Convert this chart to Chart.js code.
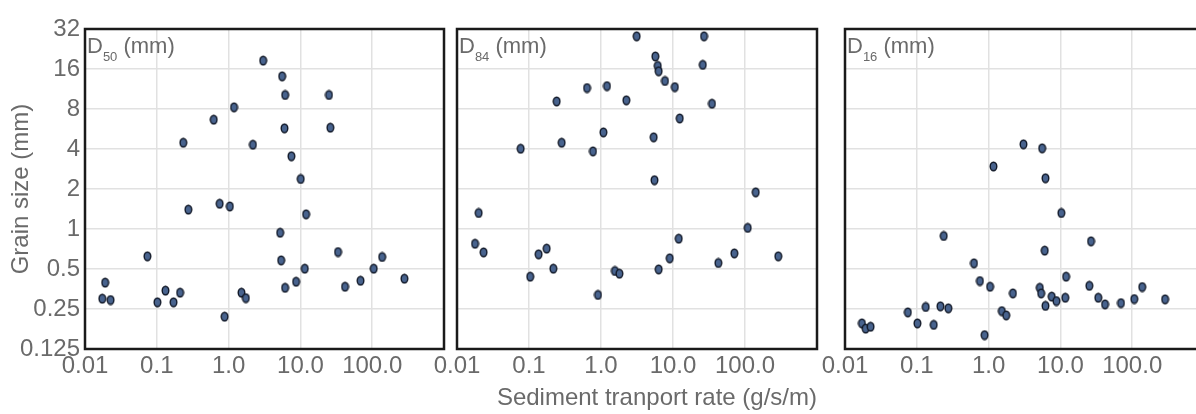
<!DOCTYPE html>
<html><head><meta charset="utf-8">
<script src="https://cdn.jsdelivr.net/npm/chart.js@4.4.1/dist/chart.umd.min.js"></script>
<style>
html,body{margin:0;padding:0;background:#fff;overflow:hidden;width:1196px;height:414px;position:relative;}
canvas{position:absolute;top:0;}
</style></head><body>
<canvas id="c1" width="450" height="414" style="left:0px"></canvas>
<canvas id="c2" width="396" height="414" style="left:427px"></canvas>
<canvas id="c3" width="395" height="414" style="left:815px"></canvas>
<script>
// ---- data ----
const xTickValues = [0.01, 0.1, 1, 10, 100, 1000];
const xTickLabels = ['0.01', '0.1', '1.0', '10.0', '100.0', ''];
const yTickValues = [0.125, 0.25, 0.5, 1, 2, 4, 8, 16, 32];
const yTickLabels = ['0.125', '0.25', '0.5', '1', '2', '4', '8', '16', '32'];
const panelSubs = ['50', '84', '16'];
const xAxisTitle = 'Sediment tranport rate (g/s/m)';
const yAxisTitle = 'Grain size (mm)';

const d50Rate = [3.03, 5.57, 6.13, 25.0, 1.19, 0.62, 6.0, 26.1, 0.234, 2.18, 7.5, 10.1,
  0.275, 0.75, 1.04, 12.0, 5.22, 0.074, 5.4, 33.4, 137.7, 11.5, 105, 0.0191, 0.0174, 0.0227,
  0.102, 0.132, 0.171, 0.211, 0.88, 1.51, 1.74, 6.12, 8.71, 41.8, 68.8, 281];
const d50Size = [18.5, 14.1, 10.2, 10.2, 8.24, 6.65, 5.73, 5.79, 4.46, 4.31, 3.53, 2.38,
  1.40, 1.55, 1.48, 1.29, 0.938, 0.623, 0.581, 0.671, 0.616, 0.503, 0.503, 0.395, 0.299, 0.292,
  0.281, 0.344, 0.281, 0.332, 0.219, 0.332, 0.302, 0.361, 0.401, 0.368, 0.408, 0.423];

const d84Rate = [3.13, 27.0, 5.68, 6.13, 6.32, 25.9, 7.74, 10.6, 0.64, 1.21, 0.242, 2.25,
  34.8, 12.4, 1.08, 5.39, 0.284, 0.0766, 0.774, 5.53, 141,
  0.020, 0.0178, 0.0234, 0.104, 0.136, 0.176, 0.218, 0.908, 1.56, 1.80, 6.32, 9.0, 12.0,
  42.6, 71.1, 109, 290];
const d84Size = [28.2, 28.2, 19.9, 16.9, 15.4, 17.2, 13.0, 11.7, 11.5, 11.9, 9.13, 9.3,
  8.77, 6.8, 5.34, 4.9, 4.46, 4.02, 3.84, 2.33, 1.89,
  1.32, 0.775, 0.667, 0.438, 0.645, 0.712, 0.503, 0.319, 0.483, 0.461, 0.497, 0.602, 0.846,
  0.555, 0.656, 1.02, 0.623];

const d16Rate = [3.06, 5.57, 1.17, 6.19, 10.3, 0.237, 26.7, 6.05, 0.625, 12.0, 0.757, 1.05,
  2.18, 5.16, 5.39, 25.3, 138, 7.57, 8.8, 6.19, 11.7, 33.7, 41.8, 69.7, 107, 287,
  0.075, 0.133, 0.213, 0.275, 0.102, 0.172, 1.53, 1.76, 0.88, 0.0172, 0.0194, 0.0227];
const d16Size = [4.34, 4.05, 2.96, 2.41, 1.32, 0.886, 0.808, 0.688, 0.552, 0.438, 0.406, 0.368,
  0.328, 0.361, 0.328, 0.374, 0.366, 0.310, 0.287, 0.264, 0.304, 0.304, 0.271, 0.277, 0.297, 0.296,
  0.236, 0.259, 0.262, 0.253, 0.195, 0.190, 0.241, 0.224, 0.159, 0.195, 0.178, 0.184];

// ---- styling ----
const FONT = "'Liberation Sans', Arial, sans-serif";
const TEXT = '#6a6a6a';
const GRID = '#e1e1e1';

function makeMarker() {
  const c = document.createElement('canvas');
  c.width = 9; c.height = 11;
  const g = c.getContext('2d');
  g.beginPath();
  g.ellipse(4.5, 5.5, 3.3, 4.3, 0, 0, Math.PI * 2);
  g.fillStyle = '#48638e';
  g.fill();
  g.lineWidth = 1.4;
  g.strokeStyle = '#111827';
  g.stroke();
  return c;
}
const marker = makeMarker();

const framePlugin = {
  id: 'frame',
  afterDatasetsDraw(chart) {
    const { ctx, chartArea: a } = chart;
    ctx.save();
    ctx.strokeStyle = '#1a1a1a';
    ctx.lineWidth = 2.5;
    ctx.strokeRect(a.left, a.top, a.right - a.left, a.bottom - a.top);
    ctx.restore();
  }
};

const labelPlugin = {
  id: 'panelLabel',
  afterDraw(chart, args, opts) {
    const { ctx, chartArea: a } = chart;
    const x0 = a.left + 2, base = a.top + 24;
    ctx.save();
    ctx.fillStyle = TEXT;
    ctx.textBaseline = 'alphabetic';
    ctx.textAlign = 'left';
    ctx.font = '22px ' + FONT;
    ctx.fillText('D', x0, base);
    let x = x0 + ctx.measureText('D').width;
    ctx.font = '13px ' + FONT;
    ctx.fillText(opts.sub, x, base + 8);
    x += ctx.measureText(opts.sub).width;
    ctx.font = '22px ' + FONT;
    ctx.fillText(' (mm)', x, base);
    ctx.restore();
  }
};

function makeChart(id, rate, size, sub, idx) {
  const first = idx === 0;
  const showXTitle = idx === 1;
  new Chart(document.getElementById(id), {
    type: 'scatter',
    data: {
      datasets: [{
        data: rate.map((x, i) => ({ x: x, y: size[i] })),
        pointStyle: marker,
        pointRadius: 5,
        pointHoverRadius: 5
      }]
    },
    options: {
      responsive: false,
      animation: false,
      events: [],
      layout: { padding: { left: first ? 0 : 30, right: 5, top: 29, bottom: 0 } },
      plugins: {
        legend: { display: false },
        tooltip: { enabled: false },
        panelLabel: { sub: sub }
      },
      scales: {
        x: {
          type: 'logarithmic',
          min: 0.01, max: 1000,
          afterBuildTicks(s) { s.ticks = xTickValues.map(v => ({ value: v })); },
          afterFit(s) { s.height = 65; s.paddingLeft = 0; s.paddingRight = 0; },
          border: { display: false },
          grid: { color: GRID, lineWidth: 1.5, drawTicks: false },
          ticks: {
            padding: 3,
            color: TEXT,
            font: { family: FONT, size: 24 },
            maxRotation: 0,
            autoSkip: false,
            callback: (v, i) => xTickLabels[i]
          },
          title: {
            display: showXTitle,
            text: xAxisTitle,
            align: 'end',
            color: TEXT,
            font: { family: FONT, size: 24 },
            padding: { top: 0, bottom: 1 }
          }
        },
        y: {
          type: 'logarithmic',
          min: 0.125, max: 32,
          afterBuildTicks(s) { s.ticks = yTickValues.map(v => ({ value: v })); },
          afterFit(s) { s.width = first ? 85 : 0; s.paddingTop = 0; s.paddingBottom = 0; },
          border: { display: false },
          grid: { color: GRID, lineWidth: 1.5, drawTicks: false },
          ticks: {
            display: first,
            padding: 5,
            color: TEXT,
            font: { family: FONT, size: 24 },
            autoSkip: false,
            callback: (v, i) => yTickLabels[i]
          },
          title: {
            display: first,
            text: yAxisTitle,
            color: TEXT,
            font: { family: FONT, size: 24 },
            padding: { top: 7, bottom: 0 }
          }
        }
      }
    },
    plugins: [framePlugin, labelPlugin]
  });
}

makeChart('c1', d50Rate, d50Size, panelSubs[0], 0);
makeChart('c2', d84Rate, d84Size, panelSubs[1], 1);
makeChart('c3', d16Rate, d16Size, panelSubs[2], 2);
</script>
</body></html>
